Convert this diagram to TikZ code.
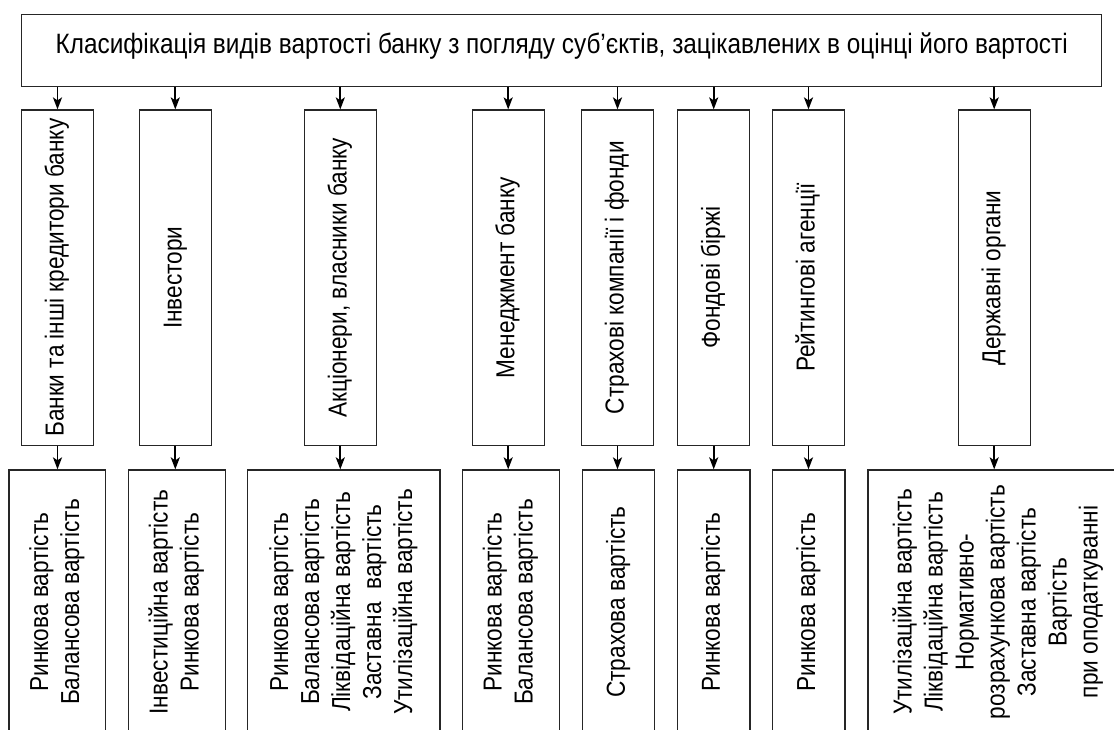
\documentclass[tikz,border=0pt]{standalone}
\usepackage{fontspec}
\usepackage{graphicx}
\setmainfont{Liberation Sans}[FakeStretch=0.87]
\usetikzlibrary{arrows.meta}
\tikzset{
  box/.style={draw=black!85, line width=1.3pt, inner sep=0pt, fill=white},
  midbox/.style={box, minimum width=72pt, minimum height=335.3pt},
  lowbox/.style={box, minimum height=264pt},
  arr/.style={line width=1.9pt, -{Stealth[length=12pt,width=9pt,inset=3pt]}}
}
\newcommand{\vtxt}[1]{\rotatebox{90}{\begin{tabular}{@{}c@{}}#1\end{tabular}}}
\begin{document}
\begin{tikzpicture}[x=1pt,y=-1pt,font=\fontsize{26}{31}\selectfont]
\useasboundingbox (0,0) rectangle (1114,729);
\clip (0,0) rectangle (1114,729);
\fill[white] (0,0) rectangle (1114,729);
% top box
\node[box, minimum width=1080pt, text height=39pt, text depth=33pt, anchor=north, font=\fontsize{28}{34}\selectfont] (top) at (561.7,14)
  {Класифікація видів вартості банку з погляду суб’єктів, зацікавлених в оцінці його вартості};
% middle boxes
\node[midbox] (m1) at (57.5,277.7) {\vtxt{Банки та інші кредитори банку}};
\node[midbox] (m2) at (175.3,277.7) {\vtxt{Інвестори}};
\node[midbox] (m3) at (340.3,277.7) {\vtxt{Акціонери, власники банку}};
\node[midbox] (m4) at (508.2,277.7) {\vtxt{Менеджмент банку}};
\node[midbox] (m5) at (617.5,277.7) {\vtxt{Страхові компанії і фонди}};
\node[midbox] (m6) at (713.7,277.7) {\vtxt{Фондові біржі}};
\node[midbox] (m7) at (808.5,277.7) {\vtxt{Рейтингові агенції}};
\node[midbox] (m8) at (994.2,277.7) {\vtxt{Державні органи}};
% lower boxes
\node[lowbox, minimum width=96.7pt] (b1) at (57.35,602) {\vtxt{Ринкова вартість\\Балансова вартість}};
\node[lowbox, minimum width=96.6pt] (b2) at (177,602) {\vtxt{Інвестиційна вартість\\Ринкова вартість}};
\node[lowbox, minimum width=192.3pt] (b3) at (343.85,602) {\vtxt{Ринкова вартість\\Балансова вартість\\Ліквідаційна вартість\\Заставна~ вартість\\Утилізаційна вартість}};
\node[lowbox, minimum width=96.6pt] (b4) at (511,602) {\vtxt{Ринкова вартість\\Балансова вартість}};
\node[lowbox, minimum width=72pt] (b5) at (618.7,602) {\vtxt{Страхова вартість}};
\node[lowbox, minimum width=72.7pt] (b6) at (713.65,602) {\vtxt{Ринкова вартість}};
\node[lowbox, minimum width=72.3pt] (b7) at (808.85,602) {\vtxt{Ринкова вартість}};
\node[lowbox, minimum width=260.6pt] (b8) at (998.3,602) {\vtxt{Утилізаційна вартість\\Ліквідаційна вартість\\Нормативно-\\розрахункова вартість\\Заставна вартість\\Вартість\\при оподаткуванні}};
% connectors
\foreach \i in {1,...,8}{
  \draw[arr] (m\i.north |- top.south) -- (m\i.north);
  \draw[arr] (m\i.south) -- (m\i.south |- b\i.north);
}
\end{tikzpicture}
\end{document}
